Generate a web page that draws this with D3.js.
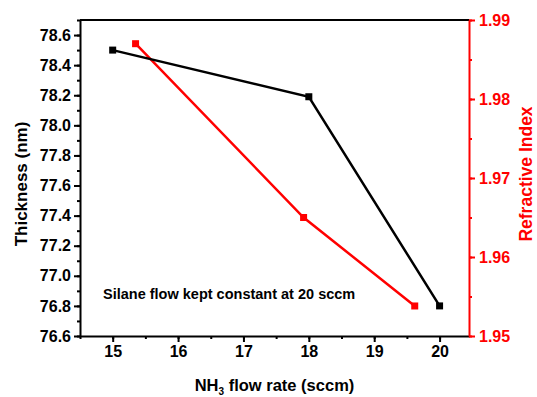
<!DOCTYPE html>
<html>
<head>
<meta charset="utf-8">
<script src="https://cdn.jsdelivr.net/npm/d3@7"></script>
<style>
  body { margin: 0; background: #fff; }
  svg { display: block; font-family: "Liberation Sans", Arial, sans-serif; font-weight: bold; }
</style>
</head>
<body>
<svg id="ctner"></svg>
<script>
// data
const thickFlow = [15, 18, 20];
const thickness = [78.5, 78.19, 76.8];
const riFlow = [15.35, 17.92, 19.62];
const refIndex = [1.987, 1.965, 1.9538];
const xTicks = [15, 16, 17, 18, 19, 20];
const yTicks = [76.6, 76.8, 77.0, 77.2, 77.4, 77.6, 77.8, 78.0, 78.2, 78.4, 78.6];
const y2Ticks = [1.95, 1.96, 1.97, 1.98, 1.99];

const width = 537;
const height = 397;
const margin = { top: 20, left: 80, bottom: 61, right: 68 };
const w = width - margin.left - margin.right;
const h = height - margin.top - margin.bottom;

const svg = d3.select("#ctner").attr("width", width).attr("height", height);
const g = svg.append("g").attr("transform", `translate(${margin.left}, ${margin.top})`);

/* scales */
const x = d3.scaleLinear().domain([14.5, 20.45]).range([0, w]);
const y = d3.scaleLinear().domain([76.6, 78.7]).range([h, 0]);
const y2 = d3.scaleLinear().domain([1.95, 1.99]).range([h, 0]);

/* minor ticks */
const minor = (scale, step) => {
  const [a, b] = scale.domain();
  const out = [];
  for (let v = Math.ceil(a / step - 1e-6) * step; v <= b + 1e-9; v += step) out.push(+v.toFixed(4));
  return out;
};

function styleAxis(sel, color) {
  sel.selectAll("path").attr("stroke", color).attr("stroke-width", 2);
  sel.selectAll("line").attr("stroke", color).attr("stroke-width", 2);
  sel.selectAll("text").attr("fill", color).style("font-size", "16px").style("font-weight", "bold")
    .style("font-family", "'Liberation Sans', Arial, sans-serif");
}

// minor ticks drawn first
g.append("g").attr("transform", `translate(0, ${h})`)
  .call(d3.axisBottom(x).tickValues(minor(x, 0.5)).tickSize(3).tickFormat(""))
  .call(s => s.select(".domain").remove())
  .call(s => styleAxis(s, "#000"));
g.append("g")
  .call(d3.axisLeft(y).tickValues(minor(y, 0.1)).tickSize(3).tickFormat(""))
  .call(s => s.select(".domain").remove())
  .call(s => styleAxis(s, "#000"));
g.append("g").attr("transform", `translate(${w}, 0)`)
  .call(d3.axisRight(y2).tickValues(minor(y2, 0.005)).tickSize(3).tickFormat(""))
  .call(s => s.select(".domain").remove())
  .call(s => styleAxis(s, "red"));

// top frame
g.append("line").attr("x1", 0).attr("x2", w).attr("y1", 0).attr("y2", 0)
  .attr("stroke", "#000").attr("stroke-width", 2);

// major axes
g.append("g").attr("transform", `translate(0, ${h})`)
  .call(d3.axisBottom(x).tickValues(xTicks).tickSize(6).tickSizeOuter(0).tickPadding(4).tickFormat(d3.format("d")))
  .call(s => styleAxis(s, "#000"));
g.append("g")
  .call(d3.axisLeft(y).tickValues(yTicks).tickSize(6).tickSizeOuter(0).tickPadding(3).tickFormat(d3.format(".1f")))
  .call(s => styleAxis(s, "#000"));
g.append("g").attr("transform", `translate(${w}, 0)`)
  .call(d3.axisRight(y2).tickValues(y2Ticks).tickSize(6).tickSizeOuter(0).tickPadding(4).tickFormat(d3.format(".2f")))
  .call(s => styleAxis(s, "red"));

/* series */
const lineT = d3.line().x((d, i) => x(thickFlow[i])).y(d => y(d));
const lineR = d3.line().x((d, i) => x(riFlow[i])).y(d => y2(d));

g.append("path").datum(refIndex).attr("d", lineR)
  .attr("fill", "none").attr("stroke", "red").attr("stroke-width", 2.5);
g.append("path").datum(thickness).attr("d", lineT)
  .attr("fill", "none").attr("stroke", "#000").attr("stroke-width", 2.5);

const ms = 7;
g.selectAll(".mr").data(refIndex).join("rect")
  .attr("x", (d, i) => x(riFlow[i]) - ms / 2).attr("y", d => y2(d) - ms / 2)
  .attr("width", ms).attr("height", ms).attr("fill", "red");
g.selectAll(".mt").data(thickness).join("rect")
  .attr("x", (d, i) => x(thickFlow[i]) - ms / 2).attr("y", d => y(d) - ms / 2)
  .attr("width", ms).attr("height", ms).attr("fill", "#000");

/* titles */
const xt = svg.append("text")
  .attr("x", margin.left + w / 2).attr("y", 391)
  .attr("text-anchor", "middle").style("font-size", "16.5px").attr("fill", "#000");
xt.append("tspan").text("NH");
xt.append("tspan").text("3").style("font-size", "10px").attr("dy", 4);
xt.append("tspan").text(" flow rate (sccm)").attr("dy", -4);

svg.append("text")
  .attr("transform", `translate(27, ${margin.top + h / 2 + 6}) rotate(-90)`)
  .attr("text-anchor", "middle").style("font-size", "17px").attr("fill", "#000")
  .text("Thickness (nm)");

svg.append("text")
  .attr("transform", `translate(532, ${margin.top + h / 2 - 4}) rotate(-90)`)
  .attr("text-anchor", "middle").style("font-size", "17.5px").attr("fill", "red")
  .text("Refractive Index");

svg.append("text")
  .attr("x", 103).attr("y", 299)
  .style("font-size", "14.5px").attr("fill", "#000")
  .text("Silane flow kept constant at 20 sccm");
</script>
</body>
</html>
